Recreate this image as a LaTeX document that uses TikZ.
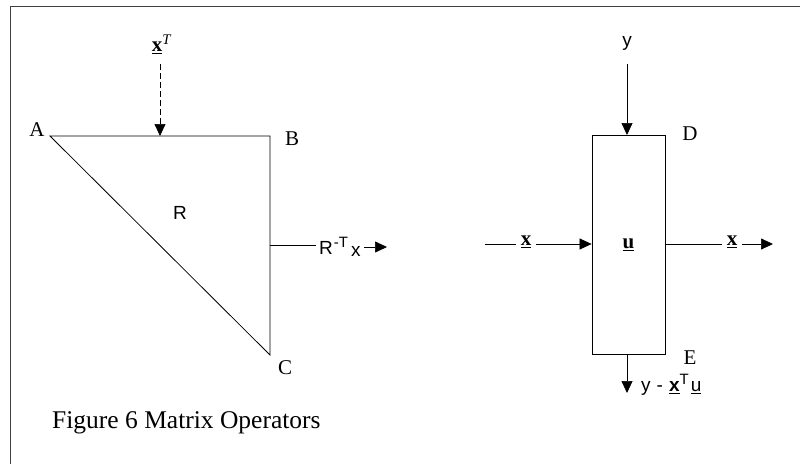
\documentclass[tikz,border=0pt]{standalone}
\usepackage{fontspec}
\setmainfont{Liberation Serif}
\newfontfamily\sansf{Liberation Sans}
\usetikzlibrary{arrows.meta,positioning,calc}

\begin{document}
\begin{tikzpicture}[x=1pt, y=-1pt,
  lbl/.style={font=\fontsize{21}{24}\selectfont, inner sep=1pt},
  lbls/.style={font=\fontsize{19}{22}\selectfont\sansf, inner sep=1pt},
  fleche/.style={-{Triangle[length=12pt,width=11pt]}, line width=0.7pt},
  trait/.style={line width=0.8pt}]
  \useasboundingbox (0,0) rectangle (800,464);
  % Cadre
  \draw[line width=0.6pt, black!75] (800,6) -- (10,6) -- (10,464);
  % Triangle R
  \coordinate (A) at (50,136);
  \coordinate (B) at (270,136);
  \coordinate (C) at (270,355);
  \draw[trait] (A) -- (B) -- (C) -- cycle;
  \node[lbl] (labA) at (37,130) {A};
  \node[lbl] (labB) at (292,139) {B};
  \node[lbl] (labC) at (285,368) {C};
  \node[lbls] (labR) at (180,213) {R};
  % Entree x^T
  \node[lbl] (xT) at (162,44) {\underline{\textbf{x}}\textsuperscript{\textit{T}}};
  \coordinate (xTbas) at (160,136);
  \draw[fleche, dash pattern=on 6pt off 3pt] (160,64) -- (xTbas);
  % Sortie R^{-T}x
  \coordinate (Rout) at (270,245);
  \node[lbls, anchor=west, inner sep=3pt] (rtx) at (316,247)
    {R\kern1pt\raisebox{7pt}{\fontsize{15}{15}\selectfont -T}\kern3pt\raisebox{-2pt}{x}};
  \coordinate (rtxfin) at (387,247);
  \draw[trait] (Rout) -- (rtx.west |- Rout);
  \draw[fleche] (rtx.east) -- (rtxfin);
  % Operateur u
  \node[draw, trait, minimum width=73pt, minimum height=219pt, inner sep=0,
    font=\fontsize{21}{24}\selectfont] (U) at (628.5,244.5) {\underline{\textbf{u}}};
  \node[lbl] (labD) at (690,134) {D};
  \node[lbl] (labE) at (690,358) {E};
  % Entree y
  \node[lbls] (y) at (627,43) {y};
  \draw[fleche] (627,64) -- (627,135);
  % Entree et sortie x
  \coordinate (xdeb) at (485,244);
  \node[lbl, inner sep=5pt] (xin) at (526,242) {\underline{\textbf{x}}};
  \draw[trait] (xdeb) -- (xin.west |- xdeb);
  \draw[fleche] (xin.east |- xdeb) -- (U.west |- xdeb);
  \node[lbl, inner sep=5pt] (xout) at (732,242) {\underline{\textbf{x}}};
  \coordinate (xfin) at (773,244);
  \draw[trait] (U.east |- xfin) -- (xout.west |- xfin);
  \draw[fleche] (xout.east |- xfin) -- (xfin);
  % Sortie y - x^T u
  \coordinate (bas) at (627,393);
  \draw[fleche] (bas |- U.south) -- (bas);
  \node[lbls, anchor=west] (res) at (640,385)
    {y\hspace{6pt}-\hspace{6pt}\underline{\textbf{x}}\raisebox{7pt}{\fontsize{15}{15}\selectfont T}\hspace{2pt}\underline{u}};
  % Legende
  \node[anchor=west, inner sep=0, font=\fontsize{25.5}{28}\selectfont] (legende)
    at (52,423) {Figure 6 Matrix Operators};
\end{tikzpicture}
\end{document}
